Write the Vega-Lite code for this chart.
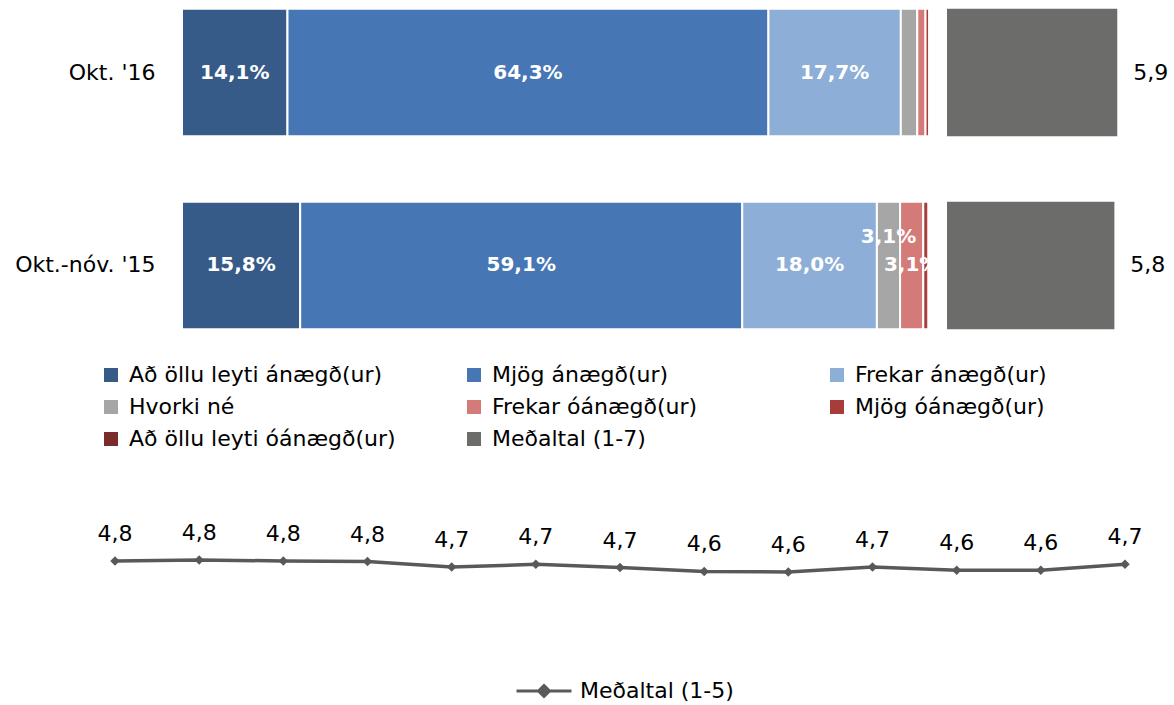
{
  "$schema": "https://vega.github.io/schema/vega-lite/v6.json",
  "padding": 0,
  "autosize": {"type": "pad"},
  "background": "white",
  "config": {
    "view": {"stroke": null},
    "font": "DejaVu Sans",
    "locale": {"number": {"decimal": ",", "thousands": ".", "grouping": [3], "currency": ["", " kr."]}}
  },
  "datasets": {
    "dist": [
      {"period": "Okt. '16", "k": 1, "cat": "Að öllu leyti ánægð(ur)", "pct": 0.141},
      {"period": "Okt. '16", "k": 2, "cat": "Mjög ánægð(ur)", "pct": 0.643},
      {"period": "Okt. '16", "k": 3, "cat": "Frekar ánægð(ur)", "pct": 0.177},
      {"period": "Okt. '16", "k": 4, "cat": "Hvorki né", "pct": 0.022},
      {"period": "Okt. '16", "k": 5, "cat": "Frekar óánægð(ur)", "pct": 0.011},
      {"period": "Okt. '16", "k": 6, "cat": "Mjög óánægð(ur)", "pct": 0.005},
      {"period": "Okt. '16", "k": 7, "cat": "Að öllu leyti óánægð(ur)", "pct": 0.001},
      {"period": "Okt.-nóv. '15", "k": 1, "cat": "Að öllu leyti ánægð(ur)", "pct": 0.158},
      {"period": "Okt.-nóv. '15", "k": 2, "cat": "Mjög ánægð(ur)", "pct": 0.591},
      {"period": "Okt.-nóv. '15", "k": 3, "cat": "Frekar ánægð(ur)", "pct": 0.180},
      {"period": "Okt.-nóv. '15", "k": 4, "cat": "Hvorki né", "pct": 0.031},
      {"period": "Okt.-nóv. '15", "k": 5, "cat": "Frekar óánægð(ur)", "pct": 0.031},
      {"period": "Okt.-nóv. '15", "k": 6, "cat": "Mjög óánægð(ur)", "pct": 0.007},
      {"period": "Okt.-nóv. '15", "k": 7, "cat": "Að öllu leyti óánægð(ur)", "pct": 0.002}
    ],
    "mean7": [
      {"period": "Okt. '16", "cat": "Meðaltal (1-7)", "mean": 5.9},
      {"period": "Okt.-nóv. '15", "cat": "Meðaltal (1-7)", "mean": 5.8}
    ],
    "trend": [
      {"t": 1, "series": "Meðaltal (1-5)", "v": 4.80},
      {"t": 2, "series": "Meðaltal (1-5)", "v": 4.82},
      {"t": 3, "series": "Meðaltal (1-5)", "v": 4.80},
      {"t": 4, "series": "Meðaltal (1-5)", "v": 4.79},
      {"t": 5, "series": "Meðaltal (1-5)", "v": 4.69},
      {"t": 6, "series": "Meðaltal (1-5)", "v": 4.74},
      {"t": 7, "series": "Meðaltal (1-5)", "v": 4.68},
      {"t": 8, "series": "Meðaltal (1-5)", "v": 4.61},
      {"t": 9, "series": "Meðaltal (1-5)", "v": 4.60},
      {"t": 10, "series": "Meðaltal (1-5)", "v": 4.69},
      {"t": 11, "series": "Meðaltal (1-5)", "v": 4.63},
      {"t": 12, "series": "Meðaltal (1-5)", "v": 4.63},
      {"t": 13, "series": "Meðaltal (1-5)", "v": 4.74}
    ]
  },
  "spacing": 146,
  "vconcat": [
    {
      "spacing": 17,
      "bounds": "flush",
      "hconcat": [
        {
          "width": 748,
          "height": 338,
          "data": {"name": "dist"},
          "transform": [
            {"stack": "pct", "groupby": ["period"], "sort": [{"field": "k", "order": "ascending"}], "as": ["x0", "x1"]},
            {"calculate": "(datum.x0 + datum.x1) / 2", "as": "xm"}
          ],
          "encoding": {
            "y": {
              "field": "period", "type": "nominal",
              "sort": ["Okt. '16", "Okt.-nóv. '15"],
              "scale": {"paddingInner": 0.34, "paddingOuter": 0.046},
              "axis": {"title": null, "domain": false, "ticks": false, "labelFont": "DejaVu Sans", "labelFontSize": 22, "labelColor": "#000000", "labelPadding": 27, "minExtent": 182}
            }
          },
          "layer": [
            {
              "mark": {"type": "bar", "stroke": "white", "strokeWidth": 2},
              "encoding": {
                "x": {"field": "x0", "type": "quantitative", "scale": {"domain": [0, 1], "nice": false}, "axis": null},
                "x2": {"field": "x1"},
                "color": {
                  "field": "cat", "type": "nominal",
                  "scale": {
                    "domain": ["Að öllu leyti ánægð(ur)", "Mjög ánægð(ur)", "Frekar ánægð(ur)", "Hvorki né", "Frekar óánægð(ur)", "Mjög óánægð(ur)", "Að öllu leyti óánægð(ur)", "Meðaltal (1-7)"],
                    "range": ["#375B88", "#4676B3", "#8DAED6", "#A6A6A6", "#D47A78", "#A83C3A", "#7A2B2B", "#6C6C6A"]
                  },
                  "legend": {
                    "orient": "none", "legendX": -82, "legendY": 364,
                    "direction": "horizontal", "columns": 3, "gridAlign": "all",
                    "columnPadding": 67, "rowPadding": 10,
                    "title": null, "symbolType": "square", "symbolSize": 196, "symbolStrokeWidth": 0,
                    "labelFont": "DejaVu Sans", "labelFontSize": 22, "labelColor": "#000000", "labelLimit": 400, "labelOffset": 7
                  }
                }
              }
            },
            {
              "transform": [{"filter": "datum.pct >= 0.03 && datum.cat != 'Hvorki né'"}],
              "mark": {"type": "text", "color": "white", "fontWeight": "bold", "fontSize": 20, "font": "DejaVu Sans"},
              "encoding": {
                "x": {"field": "xm", "type": "quantitative"},
                "text": {"field": "pct", "type": "quantitative", "format": ".1%"}
              }
            },
            {
              "transform": [{"filter": "datum.pct >= 0.03 && datum.cat == 'Hvorki né'"}],
              "mark": {"type": "text", "color": "white", "fontWeight": "bold", "fontSize": 20, "font": "DejaVu Sans", "dy": -28},
              "encoding": {
                "x": {"field": "xm", "type": "quantitative"},
                "text": {"field": "pct", "type": "quantitative", "format": ".1%"}
              }
            }
          ]
        },
        {
          "width": 202,
          "height": 338,
          "data": {"name": "mean7"},
          "encoding": {
            "y": {
              "field": "period", "type": "nominal",
              "sort": ["Okt. '16", "Okt.-nóv. '15"],
              "scale": {"paddingInner": 0.34, "paddingOuter": 0.046},
              "axis": null
            },
            "x": {"field": "mean", "type": "quantitative", "scale": {"domain": [0, 7], "nice": false}, "axis": null}
          },
          "layer": [
            {
              "mark": {"type": "bar"},
              "encoding": {"color": {"field": "cat", "type": "nominal"}}
            },
            {
              "mark": {"type": "text", "align": "left", "dx": 16, "fontSize": 22, "font": "DejaVu Sans", "color": "#000000"},
              "encoding": {"text": {"field": "mean", "type": "quantitative", "format": ".1f"}}
            }
          ]
        }
      ]
    },
    {
      "width": 943,
      "height": 143,
      "data": {"name": "trend"},
      "encoding": {
        "x": {"field": "t", "type": "quantitative", "scale": {"domain": [1.796, 13], "nice": false, "zero": false}, "axis": null},
        "y": {
          "field": "v", "type": "quantitative",
          "scale": {"domain": [3.6, 6.2], "nice": false, "zero": false},
          "axis": null
        }
      },
      "layer": [
        {
          "mark": {"type": "line", "strokeWidth": 3.5},
          "encoding": {
            "stroke": {
              "field": "series", "type": "nominal",
              "scale": {"range": ["#595959"]},
              "legend": {
                "orient": "none", "legendX": 333, "legendY": 662, "title": null,
                "symbolType": "M-1,0H1M0,-0.2L0.2,0L0,0.2L-0.2,0Z", "symbolSize": 3025,
                "symbolStrokeWidth": 3, "symbolFillColor": "#595959", "symbolStrokeColor": "#595959",
                "labelFont": "DejaVu Sans", "labelFontSize": 22, "labelColor": "#000000", "labelOffset": 7
              }
            }
          }
        },
        {
          "mark": {"type": "point", "shape": "diamond", "filled": true, "size": 90, "color": "#595959", "opacity": 1}
        },
        {
          "mark": {"type": "text", "dy": -20, "baseline": "alphabetic", "fontSize": 22, "font": "DejaVu Sans", "color": "#000000"},
          "encoding": {"text": {"field": "v", "type": "quantitative", "format": ".1f"}}
        }
      ]
    }
  ]
}
